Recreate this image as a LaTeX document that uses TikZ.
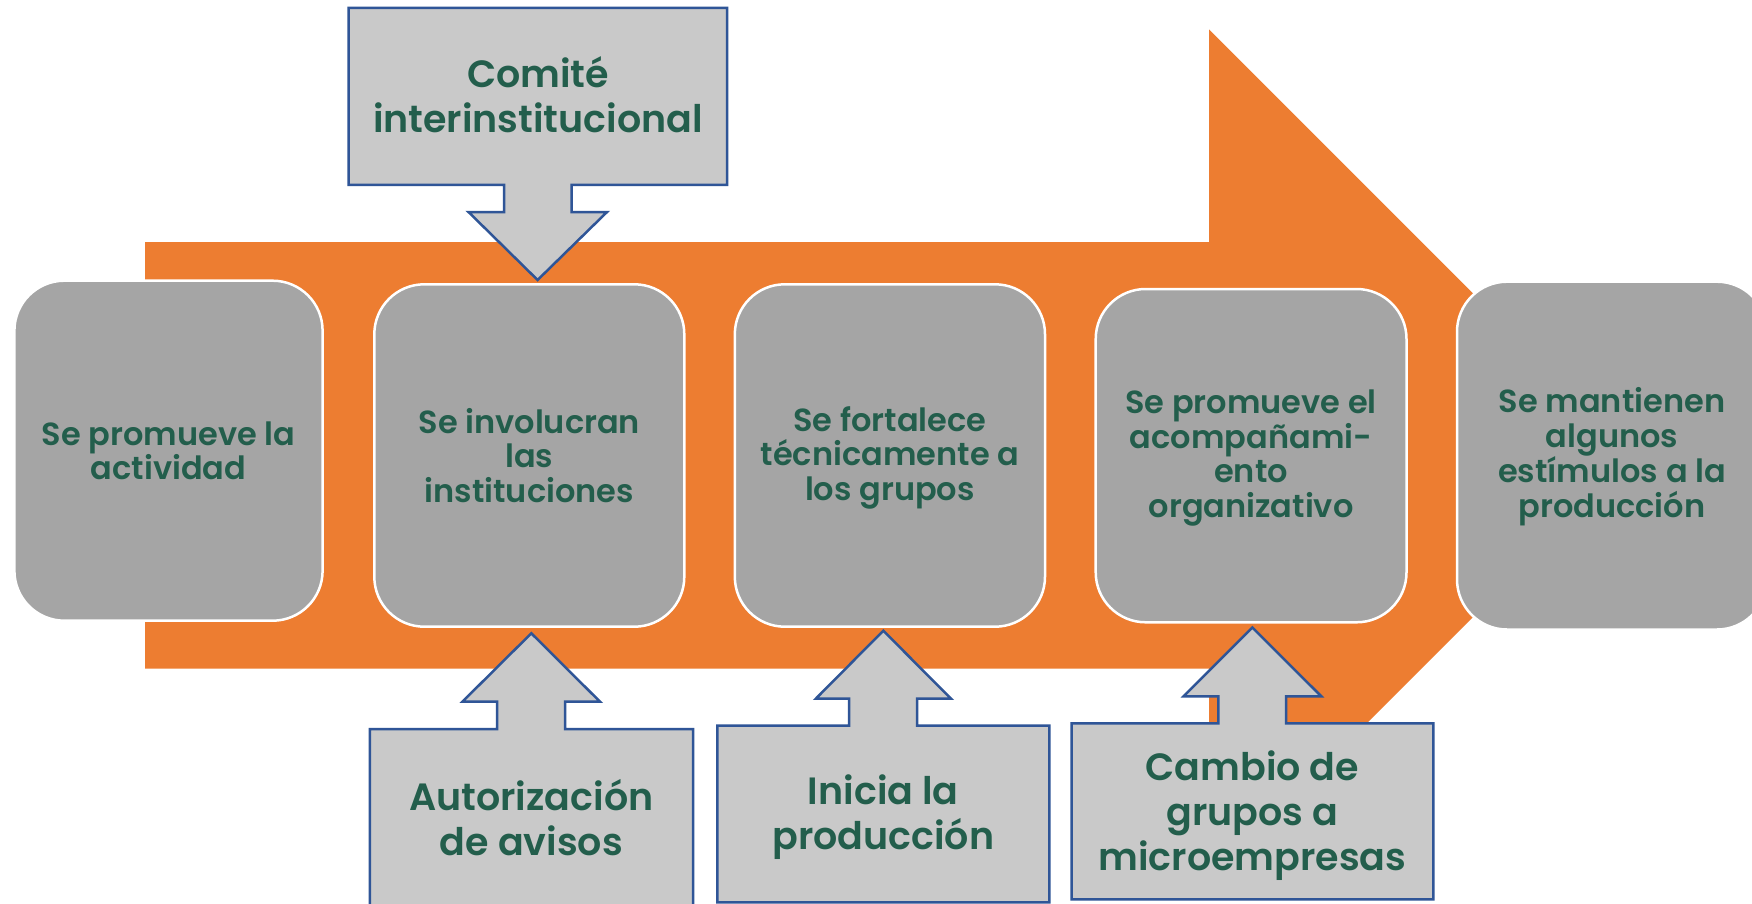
\documentclass[tikz,border=0pt]{standalone}
\usepackage{fontspec}
\setmainfont{Poppins}[BoldFont={Poppins SemiBold}]
\definecolor{orng}{HTML}{ED7D31}
\definecolor{boxgray}{HTML}{A5A5A5}
\definecolor{callgray}{HTML}{C9C9C9}
\definecolor{callblue}{HTML}{2F5597}
\definecolor{txtgreen}{HTML}{235E4C}
\begin{document}
\begin{tikzpicture}[x=1pt,y=-1pt,
  stagebox/.style={rectangle, rounded corners=50pt, fill=boxgray, draw=white, line width=2.5pt,
    text=txtgreen, font=\fontsize{32}{34.5}\selectfont\bfseries, align=center, inner sep=0pt},
  stagetext/.style={text=txtgreen, font=\fontsize{32}{34.5}\selectfont\bfseries, align=center, inner sep=0pt},
  callout/.style={fill=callgray, draw=callblue, line width=2.5pt, line join=miter},
  calltext/.style={text=txtgreen, font=\fontsize{38}{44.7}\selectfont\bfseries, align=center, inner sep=0pt}]
\useasboundingbox (0,0) rectangle (1752,904);
\fill[white] (0,0) rectangle (1752,904);
% big orange arrow
\fill[orng] (145,242) -- (1209,242) -- (1209,29.5) -- (1635,455.25) -- (1209,881) -- (1209,668.5) -- (145,668.5) -- cycle;
% stage boxes
\node[stagebox, minimum width=308.2pt, minimum height=340pt] (b1) at (168.5,450.7) {Se promueve la\\actividad};
\node[stagebox, minimum width=310pt, minimum height=342.4pt] (b2) at (529.3,455.5) {Se involucran\\las\\instituciones};
\node[stagebox, minimum width=310.2pt, minimum height=342.4pt] (b3) at (889.9,455.5) {};
\node[stagetext] (t3) at (889.9,457.5) {Se fortalece\\técnicamente a\\los grupos};
\node[stagebox, minimum width=310.8pt, minimum height=333.3pt] (b4) at (1251.1,455.65) {};
\node[stagetext] (t4) at (1251.1,458) {Se promueve el\\acompañami-\\ento\\organizativo};
\node[stagebox, minimum width=310pt, minimum height=347.8pt] (b5) at (1612,455.6) {};
\node[stagetext] (t5) at (1612,456.8) {Se mantienen\\algunos\\estímulos a la\\producción};
% top callout
\draw[callout] (348.6,8) -- (727.2,8) -- (727.2,185) -- (571.5,185) -- (571.5,212) -- (607,212) -- (537.6,280) -- (468.5,212) -- (504,212) -- (504,185) -- (348.6,185) -- cycle;
\node[calltext] (c1) at (538,94.5) {Comité\\interinstitucional};
% bottom callouts
\draw[callout] (369.8,906) -- (369.8,729) -- (497,729) -- (497,701.7) -- (462.4,701.7) -- (531.3,633.3) -- (600,701.7) -- (565.2,701.7) -- (565.2,729) -- (693,729) -- (693,906) -- cycle;
\node[calltext] (c2) at (531.4,817.5) {Autorización\\de avisos};
\draw[callout] (717.3,902.3) -- (717.3,725.7) -- (849,725.7) -- (849,698.7) -- (815.8,698.7) -- (883.3,630.7) -- (951,698.7) -- (917.2,698.7) -- (917.2,725.7) -- (1049.4,725.7) -- (1049.4,902.3) -- cycle;
\node[calltext] (c3) at (883.3,817) {Inicia la\\producción};
\draw[callout] (1071.5,899.3) -- (1071.5,723.3) -- (1218.3,723.3) -- (1218.3,696.3) -- (1183.5,696.3) -- (1252.3,627.5) -- (1321.3,696.3) -- (1286,696.3) -- (1286,723.3) -- (1433.3,723.3) -- (1433.3,899.3) -- cycle;
\node[calltext] (c4) at (1252.4,815.5) {Cambio de\\grupos a\\microempresas};
\end{tikzpicture}
\end{document}
